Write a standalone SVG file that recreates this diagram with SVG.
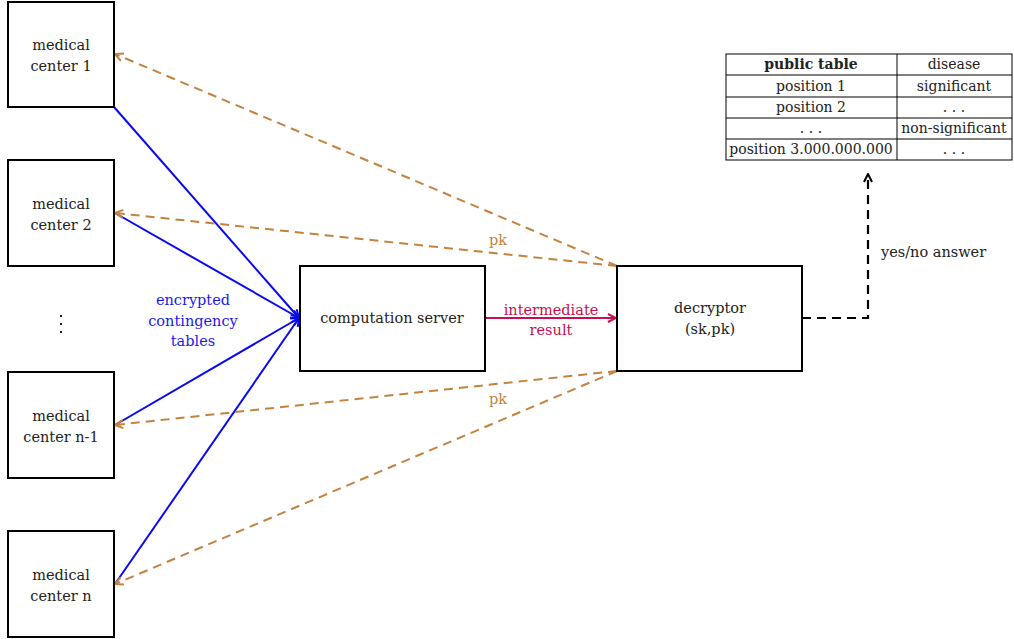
<svg xmlns="http://www.w3.org/2000/svg" width="1014" height="639" viewBox="0 0 1014 639">
<style>
text{font-family:"DejaVu Serif","Liberation Serif",serif;font-size:14.5px;fill:#222;text-anchor:middle}
#table text{font-size:14px}
.node{fill:#fff;stroke:#000;stroke-width:2}
.blue{stroke:#0a0aee;stroke-width:2;fill:none}
.pk{stroke:#c4823e;stroke-width:2;fill:none;stroke-dasharray:9,6}
.red{stroke:#c81050;stroke-width:2;fill:none}
.ans{stroke:#000;stroke-width:2.2;fill:none;stroke-dasharray:9,6}
.tbl{fill:none;stroke:#000;stroke-width:1}
</style>
<defs>
<marker id="ab" viewBox="0 0 10 10" refX="9" refY="5" markerWidth="10" markerHeight="10" markerUnits="userSpaceOnUse" orient="auto"><path d="M1,1 L9,5 L1,9" fill="none" stroke="#0a0aee" stroke-width="2"/></marker>
<marker id="ao" viewBox="0 0 10 10" refX="9" refY="5" markerWidth="10" markerHeight="10" markerUnits="userSpaceOnUse" orient="auto"><path d="M1,1 L9,5 L1,9" fill="none" stroke="#c4823e" stroke-width="2"/></marker>
<marker id="ar" viewBox="0 0 10 10" refX="9" refY="5" markerWidth="10" markerHeight="10" markerUnits="userSpaceOnUse" orient="auto"><path d="M1,1 L9,5 L1,9" fill="none" stroke="#c81050" stroke-width="2"/></marker>
<marker id="ak" viewBox="0 0 10 10" refX="9" refY="5" markerWidth="10" markerHeight="10" markerUnits="userSpaceOnUse" orient="auto"><path d="M1,1 L9,5 L1,9" fill="none" stroke="#000" stroke-width="2"/></marker>
</defs>
<g id="connectors">
<line class="blue" x1="114" y1="107" x2="299" y2="318" marker-end="url(#ab)"/>
<line class="blue" x1="115" y1="213" x2="299" y2="318" marker-end="url(#ab)"/>
<line class="blue" x1="115" y1="425" x2="299" y2="318" marker-end="url(#ab)"/>
<line class="blue" x1="115" y1="584" x2="299" y2="318" marker-end="url(#ab)"/>
<line class="pk" x1="617" y1="266" x2="115" y2="54" marker-end="url(#ao)"/>
<line class="pk" x1="617" y1="266" x2="115" y2="213" marker-end="url(#ao)"/>
<line class="pk" x1="617" y1="371" x2="115" y2="425" marker-end="url(#ao)"/>
<line class="pk" x1="617" y1="371" x2="115" y2="584" marker-end="url(#ao)"/>
<line class="red" x1="485" y1="318" x2="616" y2="318" marker-end="url(#ar)"/>
<polyline class="ans" points="802,318 868,318 868,174" marker-end="url(#ak)"/>
<text x="193" y="305" style="fill:#1a1af0">encrypted</text>
<text x="193" y="326" style="fill:#1a1af0">contingency</text>
<text x="193" y="346" style="fill:#1a1af0">tables</text>
<text x="498" y="245" style="fill:#c4823e">pk</text>
<text x="498" y="404" style="fill:#c4823e">pk</text>
<text x="551" y="315" style="fill:#c81050">intermediate</text>
<text x="551" y="335" style="fill:#c81050">result</text>
<text x="881" y="257" style="text-anchor:start">yes/no answer</text>
</g>
<g id="mc1"><rect class="node" x="8" y="2" width="106" height="105"/><text x="61" y="50">medical</text><text x="61" y="71">center 1</text></g>
<g id="mc2"><rect class="node" x="8" y="160" width="106" height="106"/><text x="61" y="209">medical</text><text x="61" y="230">center 2</text></g>
<g id="dots"><rect x="60" y="315" width="2" height="2" fill="#222"/><rect x="60" y="323" width="2" height="2" fill="#222"/><rect x="60" y="331" width="2" height="2" fill="#222"/></g>
<g id="mcn1"><rect class="node" x="8" y="372" width="106" height="106"/><text x="61" y="421">medical</text><text x="61" y="442">center n-1</text></g>
<g id="mcn"><rect class="node" x="8" y="531" width="106" height="106"/><text x="61" y="580">medical</text><text x="61" y="601">center n</text></g>
<g id="server"><rect class="node" x="300" y="266" width="185" height="105"/><text x="392" y="323">computation server</text></g>
<g id="decryptor"><rect class="node" x="617" y="266" width="185" height="105"/><text x="710" y="313">decryptor</text><text x="710" y="334">(sk,pk)</text></g>
<g id="table">
<rect class="tbl" x="726" y="54" width="286" height="106"/>
<line class="tbl" x1="897" y1="54" x2="897" y2="160"/>
<line class="tbl" x1="726" y1="75" x2="1012" y2="75"/>
<line class="tbl" x1="726" y1="97" x2="1012" y2="97"/>
<line class="tbl" x1="726" y1="118" x2="1012" y2="118"/>
<line class="tbl" x1="726" y1="139" x2="1012" y2="139"/>
<text x="811" y="69" style="font-weight:bold">public table</text><text x="954" y="69">disease</text>
<text x="811" y="91">position 1</text><text x="954" y="91">significant</text>
<text x="811" y="112">position 2</text><text x="954" y="112">. . .</text>
<text x="811" y="133">. . .</text><text x="954" y="133">non-significant</text>
<text x="811" y="154">position 3.000.000.000</text><text x="954" y="154">. . .</text>
</g>
</svg>
